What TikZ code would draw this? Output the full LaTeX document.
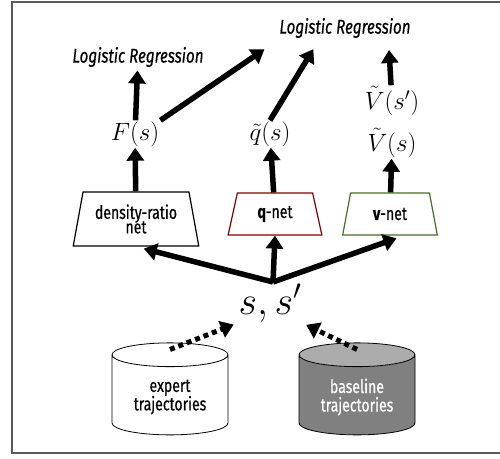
\documentclass[tikz,border=0pt]{standalone}
\usepackage{fix-cm}
\usepackage{fontspec}
\setsansfont{Fira Sans}[FakeStretch=0.76,FakeBold=0.5]
\usetikzlibrary{shapes.geometric,arrows.meta,positioning,calc}

\definecolor{qred}{RGB}{128,0,0}
\definecolor{vgreen}{RGB}{70,110,40}
\definecolor{framegray}{RGB}{90,90,90}
\newcommand{\labelfont}{\sffamily\fontsize{18.5}{18.5}\selectfont}

\begin{document}
\begin{tikzpicture}[x=1pt,y=-1pt,
    fatarrow/.style={-{Triangle[width=17pt,length=13pt]},line width=5.5pt},
    dotarrow/.style={-{Triangle[width=17pt,length=13pt]},line width=5pt,dash pattern=on 5pt off 4pt},
    formula/.style={font=\fontsize{25}{25}\selectfont,inner sep=1pt},
    netbox/.style={draw,trapezium,trapezium left angle=76,trapezium right angle=76,
        trapezium stretches=true,line width=1.2pt,align=center,font=\labelfont,inner sep=1pt},
    store/.style={draw,cylinder,shape border rotate=90,aspect=0.3,line width=0.8pt,
        minimum width=116pt,minimum height=92pt,align=center,font=\labelfont}]
    \useasboundingbox (0,0) rectangle (500,458);
    \draw[framegray,line width=1.5pt] (503,2) -- (12,2) -- (12,453) -- (503,453);

    \node[font=\sffamily\itshape\fontsize{20}{20}\selectfont] (lr1) at (138,57) {Logistic Regression};
    \node[font=\sffamily\itshape\fontsize{20}{20}\selectfont] (lr2) at (345,28) {Logistic Regression};

    \node[formula] (F) at (135,134) {$F(s)$};
    \node[formula] (q) at (270,134) {$\tilde{q}(s)$};
    \node[formula] (vs) at (392,143) {$\tilde{V}(s)$};
    \node[formula] (vsp) at (392,101) {$\tilde{V}(s')$};
    \coordinate (vtop) at (389,50);

    \node[netbox,minimum width=126pt,minimum height=54pt] (dr) at (136,219) {density-ratio\\[-4pt]net};
    \node[netbox,draw=qred,minimum width=94pt,minimum height=42pt] (qnet) at (275,214) {\textbf{q}-net};
    \node[netbox,draw=vgreen,minimum width=95pt,minimum height=42pt] (vnet) at (390,214) {\textbf{v}-net};

    \coordinate (split) at (273,282);
    \node[font=\fontsize{40}{40}\selectfont,inner sep=1pt] (ss) at (270,303) {$s,s'$};

    \node[store,fill=white] (expert) at (170,397) {expert\\trajectories};
    \node[store,cylinder uses custom fill,cylinder body fill=gray,cylinder end fill=gray!65,
        text=white] (base) at (357,397) {baseline\\trajectories};

    % upper arrows
    \draw[fatarrow] (F) -- (lr1);
    \draw[fatarrow,shorten >=14pt] (F.north east) -- (lr2.south west);
    \draw[fatarrow,shorten >=9pt] (q.north) -- ([xshift=-27pt]lr2.south);
    \draw[fatarrow] (vsp) -- (vtop);
    \draw[fatarrow] (dr) -- (F);
    \draw[fatarrow] (qnet) -- (q);
    \draw[fatarrow] (vnet) -- (vs);

    % from the states
    \draw[fatarrow,shorten >=8pt] (split) -- (dr.south);
    \draw[fatarrow] (split) -- (qnet.south);
    \draw[fatarrow,shorten >=8pt] (split) -- ([xshift=14pt]vnet.south);

    \draw[dotarrow,shorten >=4pt] ([yshift=-7pt]expert.north) -- (ss.south west);
    \draw[dotarrow,shorten >=4pt] ([yshift=-7pt]base.north) -- (ss.south east);
\end{tikzpicture}
\end{document}
